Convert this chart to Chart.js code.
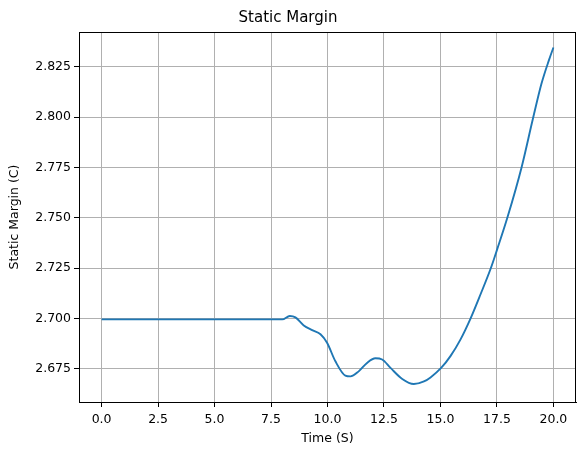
<!DOCTYPE html>
<html>
<head>
<meta charset="utf-8">
<script src="https://cdn.jsdelivr.net/npm/chart.js@4.4.1/dist/chart.umd.min.js"></script>
<style>
  html, body { margin: 0; padding: 0; background: #fff; }
  #wrap { width: 584px; height: 455px; }
</style>
</head>
<body>
<div id="wrap"><canvas id="sm-chart" width="584" height="455"></canvas></div>
<script>
// values
var timeS = [0, 8.0, 8.33, 8.58, 8.95, 9.32, 9.69, 9.98, 10.35, 10.79, 11.02, 11.38, 11.75, 12.12, 12.42, 12.79,
             13.31, 13.82, 14.27, 14.56, 15.03, 15.45, 15.89, 16.33, 16.78, 17.22, 17.52, 17.96, 18.59, 19.09,
             19.47, 19.81, 20.0];
var staticMargin = [2.6996, 2.6996, 2.7013, 2.7006, 2.6966, 2.6943, 2.6922, 2.688, 2.6788, 2.6717, 2.6713, 2.6738,
                    2.678, 2.6803, 2.6797, 2.6755, 2.670, 2.6675, 2.6688, 2.6708, 2.6755, 2.6815, 2.6897, 2.700,
                    2.7122, 2.7247, 2.7347, 2.750, 2.775, 2.799, 2.8165, 2.8285, 2.8345];
var xTicks = [0, 2.5, 5, 7.5, 10, 12.5, 15, 17.5, 20];
var yTicks = [2.675, 2.700, 2.725, 2.750, 2.775, 2.800, 2.825];

var points = timeS.map(function (t, i) { return { x: t, y: staticMargin[i] }; });

Chart.defaults.font.family = "'DejaVu Sans', sans-serif";
Chart.defaults.color = '#000';

// black box around the plot area, like the axes spines
var frame = {
    id: 'frame',
    afterDraw: function (chart) {
        var a = chart.chartArea, ctx = chart.ctx;
        ctx.save();
        ctx.strokeStyle = '#000';
        ctx.lineWidth = 1;
        ctx.strokeRect(Math.round(a.left) + 0.5, Math.round(a.top) + 0.5,
                       Math.round(a.right - a.left) - 1, Math.round(a.bottom - a.top));
        ctx.restore();
    }
};

new Chart(document.getElementById('sm-chart'), {
    type: 'line',
    data: {
        datasets: [{
            data: points,
            borderColor: '#1f77b4',
            borderWidth: 1.9,
            pointRadius: 0,
            fill: false,
            cubicInterpolationMode: 'monotone'
        }]
    },
    options: {
        responsive: false,
        animation: false,
        layout: { padding: { left: 0, right: 8, top: 0, bottom: 0 } },
        plugins: {
            legend: { display: false },
            tooltip: { enabled: false },
            title: {
                display: true,
                text: 'Static Margin',
                font: { size: 15, weight: 'normal' },
                color: '#000',
                padding: { top: 9, bottom: 5 }
            }
        },
        scales: {
            x: {
                type: 'linear',
                min: -1, max: 21,
                afterBuildTicks: function (s) { s.ticks = xTicks.map(function (v) { return { value: v }; }); },
                afterFit: function (s) { s.height = 53; },
                ticks: {
                    font: { size: 12.5 },
                    color: '#000',
                    padding: 5,
                    maxRotation: 0,
                    callback: function (v) { return v.toFixed(1); }
                },
                grid: { color: '#b0b0b0', lineWidth: 1, tickColor: '#000', tickLength: 5 },
                border: { color: '#000', width: 1 },
                title: {
                    display: true, text: 'Time (S)', color: '#000',
                    font: { size: 12.5 }, padding: { top: 0, bottom: 9 }
                }
            },
            y: {
                type: 'linear',
                min: 2.6586, max: 2.8422,
                afterBuildTicks: function (s) { s.ticks = yTicks.map(function (v) { return { value: v }; }); },
                afterFit: function (s) { s.width = 79; },
                ticks: {
                    font: { size: 12.5 },
                    color: '#000',
                    padding: 3,
                    callback: function (v) { return v.toFixed(3); }
                },
                grid: { color: '#b0b0b0', lineWidth: 1, tickColor: '#000', tickLength: 5 },
                border: { color: '#000', width: 1 },
                title: {
                    display: true, text: 'Static Margin (C)', color: '#000',
                    font: { size: 12.5 }, padding: { top: 7, bottom: 0 }
                }
            }
        }
    },
    plugins: [frame]
});
</script>
</body>
</html>
